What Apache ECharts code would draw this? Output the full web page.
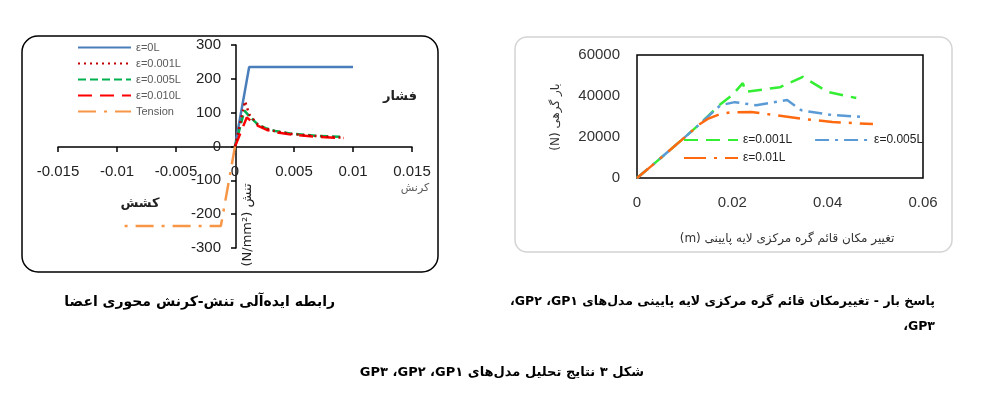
<!DOCTYPE html>
<html>
<head>
<meta charset="utf-8">
<script src="https://cdn.jsdelivr.net/npm/echarts@6/dist/echarts.min.js"></script>
<style>
html,body{margin:0;padding:0;background:#fff;}
#c{width:1002px;height:401px;}
</style>
</head>
<body>
<div id="c"></div>
<script>
// ---- Left chart: ideal stress-strain relationship ----
const strainE0 = [0, 0.0012, 0.01];
const stressE0 = [0, 235, 235];
const strainE001 = [0, 0.00085, 0.0012, 0.0019, 0.0026, 0.0034, 0.0048, 0.0068, 0.0092];
const stressE001 = [0, 134, 95, 66, 53, 45, 37, 31, 26];
const strainE005 = [0, 0.0008, 0.0012, 0.0019, 0.0026, 0.0034, 0.0048, 0.0068, 0.0092];
const stressE005 = [0, 106, 90, 66, 54, 46, 38, 32, 28];
const strainE010 = [0, 0.001, 0.0014, 0.002, 0.0027, 0.0035, 0.0048, 0.0068, 0.0092];
const stressE010 = [0, 86, 74, 60, 49, 42, 35, 29, 25];
const strainTension = [0, -0.0012, -0.01];
const stressTension = [0, -235, -235];
const leftNames = ['ε=0L', 'ε=0.001L', 'ε=0.005L', 'ε=0.010L', 'Tension'];

// ---- Right chart: load - displacement ----
const disp001 = [0, 0.003, 0.006, 0.01, 0.013, 0.0175, 0.02, 0.0222, 0.0228, 0.03, 0.0348, 0.04, 0.046];
const load001 = [0, 5800, 11800, 19800, 26000, 36000, 40500, 46300, 42000, 44300, 49300, 42000, 39000];
const disp005 = [0, 0.003, 0.006, 0.01, 0.013, 0.0175, 0.0205, 0.025, 0.0315, 0.0345, 0.041, 0.048];
const load005 = [0, 5800, 11800, 19800, 26000, 35500, 37000, 35500, 38000, 33000, 30700, 29700];
const disp01 = [0, 0.003, 0.006, 0.01, 0.013, 0.015, 0.0175, 0.0195, 0.024, 0.0342, 0.041, 0.0495];
const load01 = [0, 5800, 11800, 19800, 26000, 29000, 31200, 32000, 32200, 29000, 27300, 26300];
const rightNames = ['ε=0.001L\u200b', 'ε=0.005L\u200b', 'ε=0.01L\u200b'];

const zip = (a, b) => a.map((v, i) => [v, b[i]]);
const NUMF = 'Liberation Sans';
const FAF = 'DejaVu Sans';
const RLM = '\u200F';

function line(name, xi, data, color, type, width) {
  return {
    name, type: 'line', xAxisIndex: xi, yAxisIndex: xi, data,
    symbol: 'none', showSymbol: false, smooth: false,
    lineStyle: { color, type, width, cap: 'butt' },
    itemStyle: { color, opacity: 0 },
    animation: false
  };
}

const chart = echarts.init(document.getElementById('c'), null, { renderer: 'canvas' });
const option = {
  backgroundColor: '#fff',
  animation: false,
  grid: [
    { left: 58, top: 45, width: 354, height: 203 },
    { left: 637, top: 55, width: 286, height: 123, show: true, borderColor: '#000', borderWidth: 1.5, backgroundColor: 'transparent' }
  ],
  xAxis: [
    { gridIndex: 0, type: 'value', min: -0.015, max: 0.015, interval: 0.005, position: 'bottom', offset: -101,
      axisLine: { onZero: false, lineStyle: { color: '#000', width: 1.5 } },
      axisTick: { show: true, length: 5, lineStyle: { color: '#000', width: 1.5 } },
      axisLabel: { fontSize: 15, color: '#222', margin: 17, fontFamily: NUMF },
      splitLine: { show: false } },
    { gridIndex: 1, type: 'value', min: 0, max: 0.06, interval: 0.02,
      axisLine: { show: false }, axisTick: { show: false },
      axisLabel: { fontSize: 15, color: '#333', margin: 17, fontFamily: NUMF },
      splitLine: { show: false } }
  ],
  yAxis: [
    { gridIndex: 0, type: 'value', min: -300, max: 300, interval: 100, position: 'left', offset: -178,
      axisLine: { show: true, onZero: false, lineStyle: { color: '#000', width: 1.5 } },
      axisTick: { show: true, length: 5, lineStyle: { color: '#000', width: 1.5 } },
      axisLabel: { fontSize: 15, color: '#222', margin: 15, fontFamily: NUMF },
      splitLine: { show: false } },
    { gridIndex: 1, type: 'value', min: 0, max: 60000, interval: 20000,
      axisLine: { show: false }, axisTick: { show: false },
      axisLabel: { fontSize: 15, color: '#333', margin: 17, fontFamily: NUMF, formatter: v => String(v) },
      splitLine: { show: false } }
  ],
  legend: [
    { data: leftNames, left: 77, top: 42, padding: 0, orient: 'vertical', itemWidth: 53, itemHeight: 10, itemGap: 5,
      textStyle: { fontSize: 11, color: '#595959', fontFamily: NUMF }, selectedMode: false },
    { data: rightNames.slice(0, 2), left: 683, top: 134, padding: 0, orient: 'horizontal', itemWidth: 54, itemHeight: 10, itemGap: 22,
      textStyle: { fontSize: 12, color: '#222', fontFamily: NUMF }, selectedMode: false },
    { data: rightNames.slice(2), left: 683, top: 152, padding: 0, orient: 'horizontal', itemWidth: 54, itemHeight: 10,
      textStyle: { fontSize: 12, color: '#222', fontFamily: NUMF }, selectedMode: false }
  ],
  series: [
    line(leftNames[0], 0, zip(strainE0, stressE0), '#4a7ebb', 'solid', 2.5),
    line(leftNames[2], 0, zip(strainE005, stressE005), '#00b050', [8, 4], 2.5),
    line(leftNames[3], 0, zip(strainE010, stressE010), '#ff0000', [14, 8], 2.5),
    line(leftNames[1], 0, zip(strainE001, stressE001), '#c00000', [2, 4], 2.5),
    line(leftNames[4], 0, zip(strainTension, stressTension), '#f79646', [18, 8, 3, 8], 2.5),
    line(rightNames[0], 1, zip(disp001, load001), '#33ee33', [14, 8], 2.5),
    line(rightNames[1], 1, zip(disp005, load005), '#5b9bd5', [14, 6, 3, 6], 2.5),
    line(rightNames[2], 1, zip(disp01, load01), '#ff6a10', [22, 8, 3, 8], 2.5)
  ],
  graphic: [
    { type: 'rect', shape: { x: 22, y: 36, width: 416, height: 236, r: 16 }, style: { fill: 'none', stroke: '#000', lineWidth: 1.5 }, silent: true },
    { type: 'rect', shape: { x: 515, y: 37, width: 437, height: 215, r: 12 }, style: { fill: 'none', stroke: '#d4d4d4', lineWidth: 1.5 }, silent: true },
    { type: 'text', x: 248, y: 225, rotation: Math.PI / 2, style: { text: '(N/mm²) تنش', font: '13px ' + FAF, fill: '#222', textAlign: 'center', textVerticalAlign: 'middle' } },
    { type: 'text', x: 415, y: 188, style: { text: 'کرنش', font: '11px ' + FAF, fill: '#595959', textAlign: 'center', textVerticalAlign: 'middle' } },
    { type: 'text', x: 400, y: 97, style: { text: 'فشار', font: 'bold 13px ' + FAF, fill: '#222', textAlign: 'center', textVerticalAlign: 'middle' } },
    { type: 'text', x: 140, y: 204, style: { text: 'کشش', font: 'bold 13px ' + FAF, fill: '#222', textAlign: 'center', textVerticalAlign: 'middle' } },
    { type: 'text', x: 556, y: 117, rotation: Math.PI / 2, style: { text: '(N) بار گرهی', font: '12px ' + FAF, fill: '#333', textAlign: 'center', textVerticalAlign: 'middle' } },
    { type: 'text', x: 787, y: 239, style: { text: '\u202Bتغییر مکان قائم گره مرکزی لایه پایینی (m)\u202C', font: '12px ' + FAF, fill: '#333', textAlign: 'center', textVerticalAlign: 'middle' } },
    { type: 'text', x: 335, y: 302, style: { text: '\u202Bرابطه ایده‌آلی تنش-کرنش محوری اعضا\u202C', font: 'bold 14px ' + FAF, fill: '#000', textAlign: 'right', textVerticalAlign: 'middle' } },
    { type: 'text', x: 935, y: 302, style: { text: '\u202Bپاسخ بار - تغییرمکان قائم گره مرکزی لایه پایینی مدل‌های GP۱' + RLM + '، GP۲' + RLM + '،\u202C', font: 'bold 12.5px ' + FAF, fill: '#000', textAlign: 'right', textVerticalAlign: 'middle' } },
    { type: 'text', x: 935, y: 327, style: { text: '\u202BGP۳' + RLM + '،\u202C', font: 'bold 12.5px ' + FAF, fill: '#000', textAlign: 'right', textVerticalAlign: 'middle' } },
    { type: 'text', x: 502, y: 373, style: { text: '\u202Bشکل ۳ نتایج تحلیل مدل‌های GP۱' + RLM + '، GP۲' + RLM + '، GP۳\u202C', font: 'bold 13px ' + FAF, fill: '#000', textAlign: 'center', textVerticalAlign: 'middle' } }
  ]
};
chart.setOption(option);
</script>
</body>
</html>
